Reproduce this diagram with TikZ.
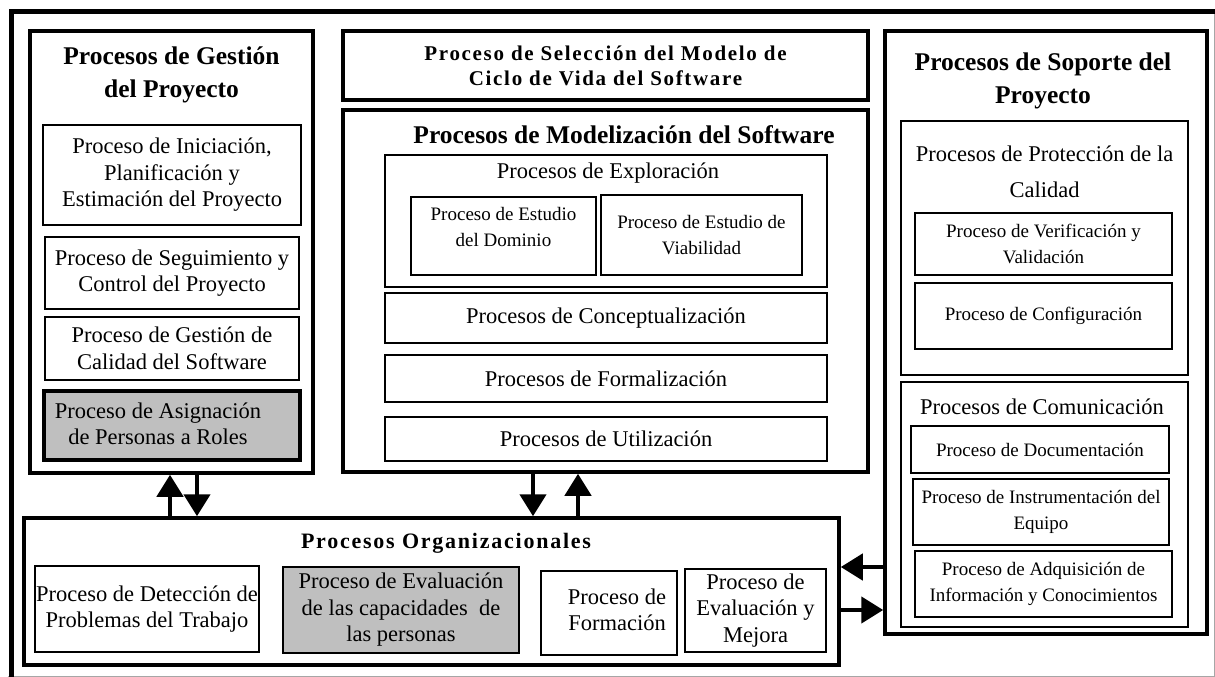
\documentclass[tikz,border=0pt]{standalone}
\usepackage{fontspec}
\setmainfont{Liberation Serif}
\newfontfamily\spacedfont[LetterSpace=8]{Liberation Serif}
\usetikzlibrary{arrows.meta}

\newcommand{\bodyfont}{\fontsize{22.5}{26.5}\selectfont}
\newcommand{\smallfont}{\fontsize{19}{26.5}\selectfont}
\newcommand{\headfont}{\fontsize{25.5}{33}\selectfont\bfseries}
\newcommand{\spacedhead}{\spacedfont\fontsize{21}{25}\selectfont\bfseries}

\tikzset{
  box/.style={draw, line width=1.6pt, inner sep=0pt, align=center, font=\bodyfont},
  smallbox/.style={box, font=\smallfont},
  frame/.style={draw, line width=3.5pt, inner sep=0pt},
  arr/.style={line width=4.5pt, -{Triangle[length=22pt,width=26pt]}},
}

\begin{document}
\begin{tikzpicture}[x=1pt, y=-1pt]
	\useasboundingbox (0,0) rectangle (1215,677);
	\draw [gray!70, line width=1pt] (8,676.5) -- (1214.5,676.5) -- (1214.5,9);
	\draw [line width=5pt] (1215,11.5) -- (11,11.5) -- (11,677);

	% gestion
	\node [frame, minimum width=283pt, minimum height=442pt] at (171.5,252) (gest) {};
	\node [font=\headfont, align=center] at (171.5,75) (gesttitle) {Procesos de Gestión\\del Proyecto};
	\node [box, minimum width=258pt, minimum height=100pt] at (172,175) (ini) {Proceso de Iniciación,\\Planificación y\\Estimación del Proyecto};
	\node [box, minimum width=254pt, minimum height=72pt] at (172,273) (seg) {Proceso de Seguimiento y\\Control del Proyecto};
	\node [box, minimum width=254pt, minimum height=63pt] at (172,348.5) (cal) {Proceso de Gestión de\\Calidad del Software};
	\node [box, fill=gray!50, line width=3.5pt, minimum width=256pt, minimum height=69pt] at (172,425.5) (asig) {};
	\node [font=\bodyfont, align=center] at (158,424) (asigtext) {Proceso de Asignación\\de Personas a Roles};

	% modelizacion
	\node [frame, minimum width=525pt, minimum height=69pt, align=center, font=\spacedhead] at (605.5,65.5) (sel) {Proceso de Selección del Modelo de\\Ciclo de Vida del Software};
	\node [frame, minimum width=525pt, minimum height=362pt] at (605.5,291) (mod) {};
	\node [font=\headfont] at (624,135) (modtitle) {Procesos de Modelización del Software};
	\node [box, minimum width=442pt, minimum height=132pt] at (606,221) (exp) {};
	\node [font=\bodyfont] at (608,173) (exptitle) {Procesos de Exploración};
	\node [smallbox, minimum width=185pt, minimum height=78pt] at (503.5,236) (dom) {};
	\node [font=\smallfont, align=center] at (503.5,227) (domtext) {Proceso de Estudio\\del Dominio};
	\node [smallbox, minimum width=201pt, minimum height=80pt] at (701.5,235) (via) {Proceso de Estudio de\\Viabilidad};
	\foreach \y/\h/\n/\t in {318/50pt/con/Conceptualización, 378.5/47pt/frm/Formalización, 439/44pt/uti/Utilización}
		\node [box, minimum width=442pt, minimum height=\h] at (606,\y) (\n) {Procesos de \t};

	% soporte
	\node [frame, minimum width=322pt, minimum height=603pt] at (1046,332.5) (sop) {};
	\node [font=\headfont, align=center] at (1043,81) (soptitle) {Procesos de Soporte del\\Proyecto};
	\node [box, minimum width=287pt, minimum height=254pt] at (1044.5,248) (pro) {};
	\node [font=\fontsize{22.5}{36}\selectfont, align=center] at (1044.5,171.5) (protitle) {Procesos de Protección de la\\Calidad};
	\node [smallbox, minimum width=257pt, minimum height=62pt] at (1043.5,244) (ver) {Proceso de Verificación y\\Validación};
	\node [smallbox, minimum width=257pt, minimum height=66pt] at (1043.5,316) (cfg) {Proceso de Configuración};
	\node [box, minimum width=287pt, minimum height=245pt] at (1044.5,504.5) (com) {};
	\node [font=\bodyfont] at (1042,407) (comtitle) {Procesos de Comunicación};
	\node [smallbox, minimum width=258pt, minimum height=47pt] at (1040,449.5) (doc) {Proceso de Documentación};
	\node [smallbox, minimum width=256pt, minimum height=66pt] at (1041,512) (ins) {Proceso de Instrumentación del\\Equipo};
	\node [smallbox, minimum width=257pt, minimum height=66pt] at (1043.5,584) (adq) {Proceso de Adquisición de\\Información y Conocimientos};

	% organizacionales
	\node [frame, minimum width=815pt, minimum height=147pt] at (431.5,591.5) (org) {};
	\node [font=\spacedfont\fontsize{22}{26}\selectfont\bfseries] at (446,543) (orgtitle) {Procesos Organizacionales};
	\node [box, minimum width=224pt, minimum height=86pt] at (147,609) (det) {Proceso de Detección de\\Problemas del Trabajo};
	\node [box, fill=gray!50, minimum width=236pt, minimum height=86pt] at (401,610) (evc) {Proceso de Evaluación\\de las capacidades\ \ de\\las personas};
	\node [box, minimum width=136pt, minimum height=84pt] at (609,613) (form) {};
	\node [font=\bodyfont, align=center] at (617,610) (formtext) {Proceso de\\Formación};
	\node [box, minimum width=141pt, minimum height=83pt] at (755.5,610.5) (evm) {Proceso de\\Evaluación y\\Mejora};

	% flechas
	\coordinate (a1) at (170,0);
	\coordinate (a2) at (197,0);
	\coordinate (a3) at (533,0);
	\coordinate (a4) at (578,0);
	\coordinate (b1) at (0,567);
	\coordinate (b2) at (0,610);
	\draw [arr] (org.north -| a1) -- (gest.south -| a1);
	\draw [arr] (gest.south -| a2) -- (org.north -| a2);
	\draw [arr] (mod.south -| a3) -- (org.north -| a3);
	\draw [arr] (org.north -| a4) -- (mod.south -| a4);
	\draw [arr] (sop.west |- b1) -- (org.east |- b1);
	\draw [arr] (org.east |- b2) -- (sop.west |- b2);
\end{tikzpicture}
\end{document}
